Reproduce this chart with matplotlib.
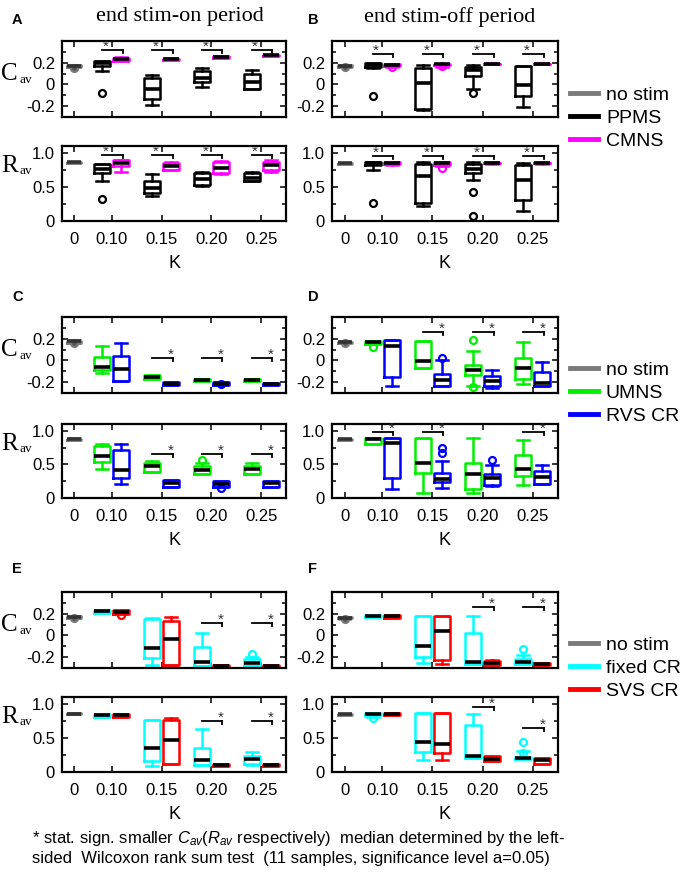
import matplotlib
matplotlib.use('Agg')
import matplotlib.pyplot as plt
from matplotlib.lines import Line2D
from matplotlib.ticker import MultipleLocator

plt.rcParams['font.family'] = ['Liberation Sans', 'DejaVu Sans']
plt.rcParams['axes.unicode_minus'] = False
plt.rcParams['mathtext.fontset'] = 'custom'
plt.rcParams['mathtext.it'] = 'Liberation Sans:italic'
plt.rcParams['mathtext.rm'] = 'Liberation Sans'

# K values on the x axis
k_labels = ['0', '0.10', '0.15', '0.20', '0.25']

# box stats: [whisker low, q1, median, q3, whisker high], one row per K=0.10..0.25

# ---- panel A (end stim-on, PPMS vs CMNS)
A_cav_nostim = [0.16, 0.165, 0.172, 0.178, 0.18]
A_cav_nostim_fl = [0.155]
A_cav_m1 = [[0.12, 0.17, 0.20, 0.22, 0.22], [-0.19, -0.13, -0.04, 0.06, 0.09],
            [-0.02, 0.02, 0.06, 0.12, 0.15], [-0.045, -0.045, 0.025, 0.10, 0.13]]
A_cav_m1_fl = [[-0.08], [], [], []]
A_cav_m2 = [[0.215, 0.22, 0.235, 0.245, 0.25], [0.225, 0.228, 0.233, 0.237, 0.24],
            [0.245, 0.248, 0.255, 0.258, 0.262], [0.26, 0.263, 0.268, 0.272, 0.275]]
A_cav_m2_fl = [[], [], [], []]
A_cav_star_k = [1, 2, 3, 4]
A_cav_star_y = [0.32, 0.32, 0.32, 0.32]

A_rav_nostim = [0.85, 0.855, 0.86, 0.865, 0.87]
A_rav_m1 = [[0.59, 0.71, 0.77, 0.83, 0.83], [0.37, 0.41, 0.49, 0.58, 0.69],
            [0.51, 0.53, 0.62, 0.71, 0.72], [0.58, 0.59, 0.635, 0.70, 0.72]]
A_rav_m1_fl = [[0.32], [], [], []]
A_rav_m2 = [[0.72, 0.81, 0.85, 0.90, 0.90], [0.75, 0.75, 0.80, 0.85, 0.87],
            [0.69, 0.70, 0.78, 0.87, 0.88], [0.72, 0.75, 0.82, 0.87, 0.89]]
A_rav_m2_fl = [[], [], [], []]
A_rav_star_k = [1, 2, 3, 4]
A_rav_star_y = [0.97, 0.97, 0.97, 0.97]

# ---- panel B (end stim-off, PPMS vs CMNS)
B_cav_nostim = [0.16, 0.165, 0.17, 0.175, 0.18]
B_cav_nostim_fl = [0.16]
B_cav_m1 = [[0.15, 0.165, 0.18, 0.195, 0.195], [-0.24, -0.23, 0.01, 0.15, 0.18],
            [-0.04, 0.08, 0.13, 0.165, 0.18], [-0.21, -0.11, -0.005, 0.17, 0.17]]
B_cav_m1_fl = [[-0.11], [], [-0.08], []]
B_cav_m2 = [[0.16, 0.17, 0.18, 0.19, 0.19], [0.165, 0.175, 0.185, 0.19, 0.19],
            [0.185, 0.188, 0.19, 0.192, 0.195], [0.185, 0.188, 0.19, 0.192, 0.195]]
B_cav_m2_fl = [[0.165], [0.17], [], []]
B_cav_star_k = [1, 2, 3, 4]
B_cav_star_y = [0.28, 0.28, 0.28, 0.28]

B_rav_nostim = [0.84, 0.843, 0.846, 0.85, 0.855]
B_rav_m1 = [[0.75, 0.82, 0.85, 0.87, 0.87], [0.22, 0.27, 0.66, 0.84, 0.87],
            [0.60, 0.71, 0.77, 0.83, 0.87], [0.14, 0.31, 0.60, 0.82, 0.85]]
B_rav_m1_fl = [[0.27], [], [0.43, 0.07], []]
B_rav_m2 = [[0.82, 0.83, 0.85, 0.86, 0.87], [0.80, 0.82, 0.85, 0.86, 0.87],
            [0.84, 0.845, 0.85, 0.855, 0.86], [0.84, 0.845, 0.85, 0.855, 0.86]]
B_rav_m2_fl = [[], [0.78], [], []]
B_rav_star_k = [1, 2, 3, 4]
B_rav_star_y = [0.96, 0.96, 0.96, 0.96]

# ---- panel C (end stim-on, UMNS vs RVS CR)
C_cav_nostim = [0.16, 0.165, 0.175, 0.18, 0.185]
C_cav_nostim_fl = [0.165]
C_cav_m1 = [[-0.12, -0.09, -0.06, 0.03, 0.135], [-0.17, -0.17, -0.153, -0.13, -0.13],
            [-0.19, -0.19, -0.177, -0.168, -0.168], [-0.186, -0.186, -0.177, -0.17, -0.17]]
C_cav_m1_fl = [[], [], [], []]
C_cav_m2 = [[-0.19, -0.19, -0.08, 0.04, 0.16], [-0.23, -0.23, -0.214, -0.2, -0.2],
            [-0.23, -0.23, -0.214, -0.2, -0.2], [-0.226, -0.226, -0.217, -0.208, -0.208]]
C_cav_m2_fl = [[], [], [-0.214], []]
C_cav_star_k = [2, 3, 4]
C_cav_star_y = [0.02, 0.02, 0.02]

C_rav_nostim = [0.86, 0.865, 0.873, 0.88, 0.885]
C_rav_m1 = [[0.43, 0.54, 0.63, 0.77, 0.81], [0.38, 0.38, 0.48, 0.52, 0.55],
            [0.36, 0.36, 0.42, 0.47, 0.52], [0.36, 0.36, 0.43, 0.47, 0.52]]
C_rav_m1_fl = [[], [], [0.56], []]
C_rav_m2 = [[0.21, 0.29, 0.42, 0.71, 0.80], [0.17, 0.17, 0.23, 0.27, 0.27],
            [0.17, 0.17, 0.21, 0.25, 0.25], [0.17, 0.17, 0.22, 0.26, 0.26]]
C_rav_m2_fl = [[], [], [0.15], []]
C_rav_star_k = [2, 3, 4]
C_rav_star_y = [0.65, 0.65, 0.65]

# ---- panel D (end stim-off, UMNS vs RVS CR)
D_cav_nostim = [0.16, 0.163, 0.167, 0.172, 0.175]
D_cav_nostim_fl = [0.165]
D_cav_m1 = [[0.154, 0.154, 0.173, 0.182, 0.182], [-0.07, -0.07, -0.008, 0.182, 0.182],
            [-0.232, -0.131, -0.091, -0.039, 0.084], [-0.214, -0.171, -0.07, 0.022, 0.17]]
D_cav_m1_fl = [[0.12], [], [0.185, -0.245], []]
D_cav_m2 = [[-0.24, -0.153, 0.136, 0.185, 0.185], [-0.232, -0.232, -0.183, -0.122, 0.0],
            [-0.254, -0.232, -0.193, -0.146, -0.091], [-0.232, -0.232, -0.208, -0.11, -0.014]]
D_cav_m2_fl = [[], [0.02], [], []]
D_cav_star_k = [2, 3, 4]
D_cav_star_y = [0.26, 0.26, 0.26]

D_rav_nostim = [0.865, 0.868, 0.873, 0.878, 0.88]
D_rav_m1 = [[0.80, 0.80, 0.873, 0.888, 0.888], [0.074, 0.37, 0.518, 0.888, 0.888],
            [0.074, 0.133, 0.36, 0.518, 0.888], [0.197, 0.321, 0.429, 0.641, 0.863]]
D_rav_m1_fl = [[], [], [], []]
D_rav_m2 = [[0.133, 0.296, 0.814, 0.888, 0.888], [0.148, 0.232, 0.281, 0.37, 0.557],
            [0.173, 0.197, 0.296, 0.36, 0.493], [0.212, 0.212, 0.311, 0.395, 0.493]]
D_rav_m2_fl = [[], [0.74, 0.666], [0.567], []]
D_rav_star_k = [1, 2, 4]
D_rav_star_y = [0.98, 0.98, 0.98]

# ---- panel E (end stim-on, fixed CR vs SVS CR)
E_cav_nostim = [0.16, 0.163, 0.17, 0.175, 0.178]
E_cav_nostim_fl = [0.16]
E_cav_m1 = [[0.207, 0.207, 0.222, 0.237, 0.237], [-0.269, -0.208, -0.116, 0.151, 0.16],
            [-0.285, -0.285, -0.248, -0.107, 0.022], [-0.278, -0.278, -0.254, -0.217, -0.2]]
E_cav_m1_fl = [[], [], [], [-0.171]]
E_cav_m2 = [[0.20, 0.20, 0.216, 0.237, 0.237], [-0.269, -0.269, -0.033, 0.136, 0.167],
            [-0.29, -0.29, -0.279, -0.269, -0.269], [-0.29, -0.29, -0.28, -0.272, -0.272]]
E_cav_m2_fl = [[0.185], [], [], []]
E_cav_star_k = [3, 4]
E_cav_star_y = [0.115, 0.115]

E_rav_nostim = [0.845, 0.85, 0.855, 0.86, 0.865]
E_rav_m1 = [[0.81, 0.81, 0.835, 0.858, 0.858], [0.082, 0.155, 0.349, 0.76, 0.76],
            [0.10, 0.10, 0.17, 0.349, 0.625], [0.11, 0.121, 0.189, 0.228, 0.30]]
E_rav_m1_fl = [[], [], [], []]
E_rav_m2 = [[0.81, 0.81, 0.833, 0.858, 0.858], [0.121, 0.121, 0.47, 0.77, 0.785],
            [0.085, 0.085, 0.097, 0.115, 0.115], [0.085, 0.085, 0.097, 0.115, 0.115]]
E_rav_m2_fl = [[], [], [], []]
E_rav_star_k = [3, 4]
E_rav_star_y = [0.75, 0.75]

# ---- panel F (end stim-off, fixed CR vs SVS CR)
F_cav_nostim = [0.155, 0.158, 0.163, 0.168, 0.17]
F_cav_nostim_fl = [0.155]
F_cav_m1 = [[0.17, 0.17, 0.182, 0.19, 0.19], [-0.254, -0.199, -0.094, 0.182, 0.182],
            [-0.26, -0.26, -0.248, 0.022, 0.176], [-0.26, -0.26, -0.248, -0.217, -0.177]]
F_cav_m1_fl = [[], [], [], [-0.125]]
F_cav_m2 = [[0.165, 0.165, 0.176, 0.188, 0.188], [-0.26, -0.223, 0.038, 0.182, 0.182],
            [-0.278, -0.27, -0.254, -0.24, -0.229], [-0.27, -0.27, -0.26, -0.255, -0.255]]
F_cav_m2_fl = [[], [], [-0.254], []]
F_cav_star_k = [3, 4]
F_cav_star_y = [0.26, 0.26]

F_rav_nostim = [0.84, 0.843, 0.848, 0.853, 0.856]
F_rav_m1 = [[0.81, 0.83, 0.848, 0.86, 0.86], [0.179, 0.30, 0.446, 0.867, 0.867],
            [0.204, 0.204, 0.228, 0.688, 0.848], [0.19, 0.195, 0.204, 0.215, 0.315]]
F_rav_m1_fl = [[0.785], [], [], [0.446, 0.276]]
F_rav_m2 = [[0.83, 0.835, 0.848, 0.86, 0.86], [0.17, 0.286, 0.412, 0.867, 0.867],
            [0.155, 0.155, 0.189, 0.228, 0.228], [0.121, 0.121, 0.17, 0.204, 0.204]]
F_rav_m2_fl = [[], [], [], []]
F_rav_star_k = [3, 4]
F_rav_star_y = [0.95, 0.65]

legend_labels_1 = ['no stim', 'PPMS', 'CMNS']
legend_labels_2 = ['no stim', 'UMNS', 'RVS CR']
legend_labels_3 = ['no stim', 'fixed CR', 'SVS CR']

c_nostim = '#7a7a7a'
colors_1 = ['black', '#ff00ff']
colors_2 = ['#00ee00', '#0000ff']
colors_3 = ['#00ffff', '#ff0000']

W, H = 686, 873
fig = plt.figure(figsize=(W / 100, H / 100), dpi=100)


def new_ax(l, t, r, b):
    return fig.add_axes([l / W, 1 - b / H, (r - l) / W, (b - t) / H])


x_ticks = [0.25, 1, 2, 3, 4]
off = 0.19


def boxes(ax, stats5, fls, pos, color, w, medc='black', flc=None):
    st = [dict(whislo=s[0], q1=s[1], med=s[2], q3=s[3], whishi=s[4], fliers=f)
          for s, f in zip(stats5, fls)]
    lw = 1.8
    ax.bxp(st, positions=pos, widths=w, capwidths=0.75 * w, showfliers=True,
           manage_ticks=False,
           boxprops=dict(color=color, lw=lw),
           whiskerprops=dict(color=color, lw=lw, linestyle='-'),
           capprops=dict(color=color, lw=lw),
           medianprops=dict(color=medc, lw=2.6),
           flierprops=dict(marker='o', markerfacecolor=flc if flc else 'none',
                           markeredgecolor=color, markersize=5, markeredgewidth=1.6))


def stars(ax, ks, ys, side):
    y0, y1 = ax.get_ylim()
    dy = 0.04 * (y1 - y0)
    for k, y in zip(ks, ys):
        xl, xr = k - off, k + off + 0.03
        ax.plot([xl, xr], [y, y], color='black', lw=1.3)
        ax.plot([xr, xr], [y, y - dy], color='black', lw=1.3)
        xs = xl + 0.07 if side == 'left' else xr - 0.03
        ax.text(xs, y - 0.01 * (y1 - y0), '*', ha='center', va='baseline', fontsize=11,
                color='#333333')


def sub_plot(ax, kind, nostim, nostim_fl, m1, m1_fl, m2, m2_fl, cols, sk, sy, side, last):
    ax.set_xlim(0, 4.5)
    if kind == 'C':
        ax.set_ylim(-0.3, 0.4)
        ax.set_yticks([-0.2, 0, 0.2])
        ax.set_yticklabels(['-0.2', '0', '0.2'])
        ax.yaxis.set_minor_locator(MultipleLocator(0.1))
    else:
        ax.set_ylim(0, 1.1)
        ax.set_yticks([0, 0.5, 1.0])
        ax.set_yticklabels(['0', '0.5', '1.0'])
        ax.yaxis.set_minor_locator(MultipleLocator(0.25))
    ax.set_xticks(x_ticks)
    ax.set_xticklabels(k_labels if last else [])
    ax.tick_params(axis='both', which='major', direction='in', top=True, right=True,
                   length=4, width=1.1, labelsize=12)
    ax.tick_params(axis='x', pad=8)
    ax.tick_params(axis='y', pad=5)
    ax.tick_params(axis='y', which='minor', direction='in', left=True, right=True,
                   length=3, width=1.1)
    for s in ax.spines.values():
        s.set_linewidth(1.6)
    boxes(ax, [nostim], [nostim_fl], [0.25], c_nostim, 0.28, medc='#333333', flc='#555555')
    boxes(ax, m1, m1_fl, [g - off for g in range(1, 5)], cols[0], 0.32)
    boxes(ax, m2, m2_fl, [g + off for g in range(1, 5)], cols[1], 0.32)
    stars(ax, sk, sy, side)
    if last:
        ax.set_xlabel('K', fontsize=13, labelpad=6)


cols_px = [(62, 286), (332, 558)]
rows_px = [((41, 117), (146, 221)), ((317, 393), (424, 498)), ((592, 668), (697, 772))]

panels = [
    (0, 0, 'left', colors_1, A_cav_nostim, A_cav_nostim_fl, A_cav_m1, A_cav_m1_fl, A_cav_m2, A_cav_m2_fl,
     A_cav_star_k, A_cav_star_y, A_rav_nostim, A_rav_m1, A_rav_m1_fl, A_rav_m2, A_rav_m2_fl,
     A_rav_star_k, A_rav_star_y),
    (0, 1, 'left', colors_1, B_cav_nostim, B_cav_nostim_fl, B_cav_m1, B_cav_m1_fl, B_cav_m2, B_cav_m2_fl,
     B_cav_star_k, B_cav_star_y, B_rav_nostim, B_rav_m1, B_rav_m1_fl, B_rav_m2, B_rav_m2_fl,
     B_rav_star_k, B_rav_star_y),
    (1, 0, 'right', colors_2, C_cav_nostim, C_cav_nostim_fl, C_cav_m1, C_cav_m1_fl, C_cav_m2, C_cav_m2_fl,
     C_cav_star_k, C_cav_star_y, C_rav_nostim, C_rav_m1, C_rav_m1_fl, C_rav_m2, C_rav_m2_fl,
     C_rav_star_k, C_rav_star_y),
    (1, 1, 'right', colors_2, D_cav_nostim, D_cav_nostim_fl, D_cav_m1, D_cav_m1_fl, D_cav_m2, D_cav_m2_fl,
     D_cav_star_k, D_cav_star_y, D_rav_nostim, D_rav_m1, D_rav_m1_fl, D_rav_m2, D_rav_m2_fl,
     D_rav_star_k, D_rav_star_y),
    (2, 0, 'right', colors_3, E_cav_nostim, E_cav_nostim_fl, E_cav_m1, E_cav_m1_fl, E_cav_m2, E_cav_m2_fl,
     E_cav_star_k, E_cav_star_y, E_rav_nostim, E_rav_m1, E_rav_m1_fl, E_rav_m2, E_rav_m2_fl,
     E_rav_star_k, E_rav_star_y),
    (2, 1, 'right', colors_3, F_cav_nostim, F_cav_nostim_fl, F_cav_m1, F_cav_m1_fl, F_cav_m2, F_cav_m2_fl,
     F_cav_star_k, F_cav_star_y, F_rav_nostim, F_rav_m1, F_rav_m1_fl, F_rav_m2, F_rav_m2_fl,
     F_rav_star_k, F_rav_star_y),
]

for p in panels:
    r, c, side, cl = p[0], p[1], p[2], p[3]
    (t1, b1), (t2, b2) = rows_px[r]
    l, rr = cols_px[c]
    ax1 = new_ax(l, t1, rr, b1)
    sub_plot(ax1, 'C', p[4], p[5], p[6], p[7], p[8], p[9], cl, p[10], p[11], side, False)
    ax2 = new_ax(l, t2, rr, b2)
    sub_plot(ax2, 'R', p[12], [], p[13], p[14], p[15], p[16], cl, p[17], p[18], side, True)
    if c == 0:
        # y labels, serif C / R with small subscript
        fig.text(1 / W, 1 - (t1 + 39) / H, 'C', family='Liberation Serif', fontsize=18, va='baseline')
        fig.text(19.5 / W, 1 - (t1 + 42) / H, 'av', family='Liberation Serif', fontsize=9.5, va='baseline')
        fig.text(1 / W, 1 - (t2 + 26) / H, 'R', family='Liberation Serif', fontsize=18, va='baseline')
        fig.text(19.5 / W, 1 - (t2 + 28) / H, 'av', family='Liberation Serif', fontsize=9.5, va='baseline')

# panel letters
for letter, (x, y) in zip('ABCDEF', [(12, 13), (308, 13), (12, 290), (308, 290), (12, 562), (308, 562)]):
    fig.text(x / W, 1 - y / H, letter, fontsize=10.5, fontweight='bold', va='top')

fig.text(180 / W, 1 - 17 / H, 'end stim-on period', family='Liberation Serif', fontsize=16,
         ha='center', va='center')
fig.text(450 / W, 1 - 17 / H, 'end stim-off period', family='Liberation Serif', fontsize=16,
         ha='center', va='center')

for labels, cl, yc in [(legend_labels_1, colors_1, 118), (legend_labels_2, colors_2, 393),
                       (legend_labels_3, colors_3, 668)]:
    handles = [Line2D([], [], color=col, lw=3.5) for col in [c_nostim] + cl]
    fig.legend(handles, labels, loc='center left', bbox_to_anchor=(570 / W, 1 - yc / H),
               frameon=False, fontsize=14, handlelength=1.45, handletextpad=0.4,
               labelspacing=0.27, borderpad=0, borderaxespad=0)

fig.text(32 / W, 1 - 838 / H,
         r'* stat. sign. smaller $C_{av}$($R_{av}$ respectively)  median determined by the left-',
         fontsize=12, va='center')
fig.text(32 / W, 1 - 858 / H,
         'sided  Wilcoxon rank sum test  (11 samples, significance level a=0.05)',
         fontsize=12, va='center')

fig.savefig('out.png', dpi=100)
